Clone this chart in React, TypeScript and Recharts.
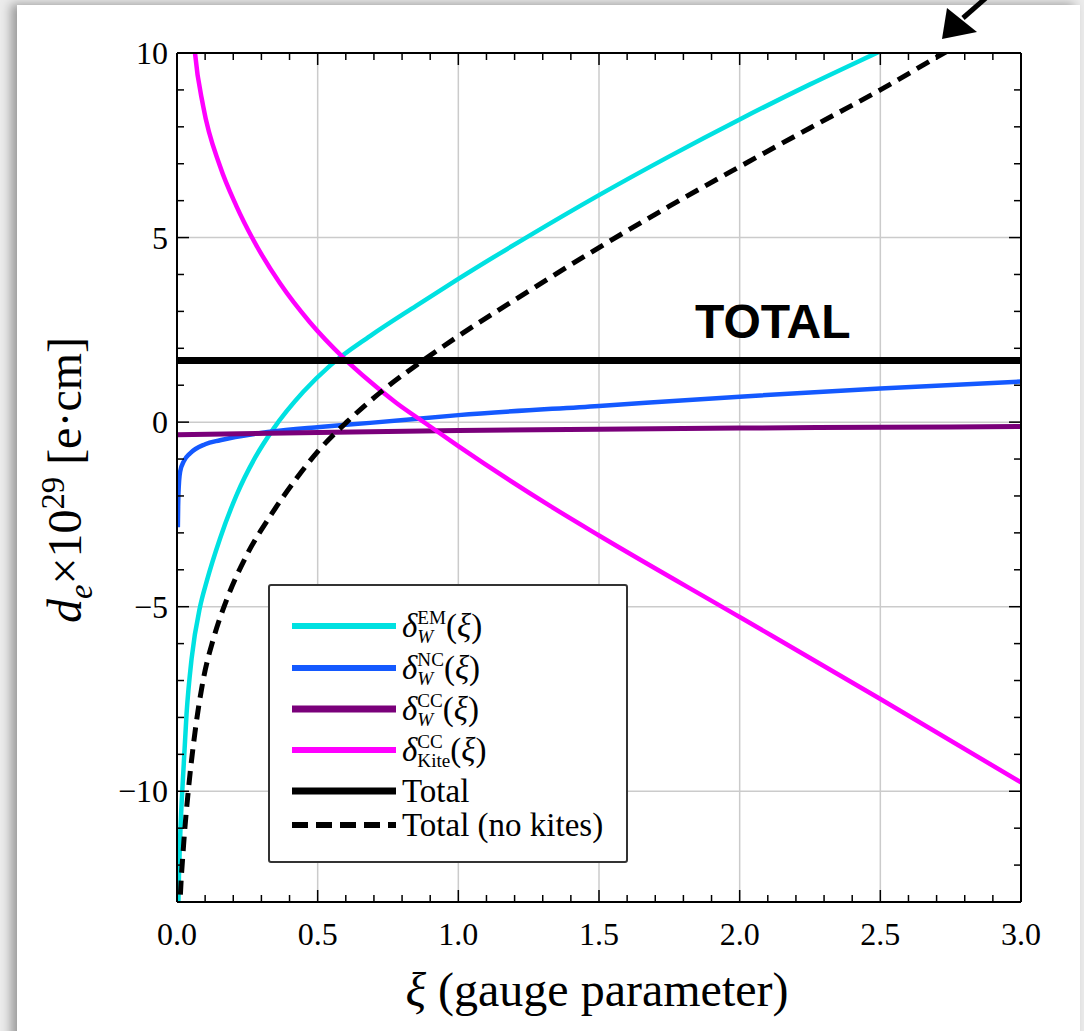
import React from 'react';
import { LineChart, Line, XAxis, YAxis, CartesianGrid, Legend } from 'recharts';

// each curve is sampled at its own xi values (dense where it bends)
const emX = [0.004, 0.006, 0.011, 0.023, 0.034, 0.052, 0.082, 0.106, 0.153, 0.212, 0.277, 0.342, 0.449, 0.544, 0.686, 0.85, 1.0, 1.25, 1.5, 1.75, 2.0, 2.25, 2.5, 2.75, 3.0];
const emY = [-13.4, -12.6, -11.3, -9.4, -7.9, -6.4, -5.0, -4.3, -3.15, -1.97, -0.97, -0.19, 0.82, 1.53, 2.33, 3.15, 3.88, 5.04, 6.15, 7.2, 8.2, 9.15, 10.05, 10.95, 11.85];

const ncX = [0.003, 0.004, 0.005, 0.011, 0.025, 0.046, 0.1, 0.153, 0.331, 0.508, 0.686, 1.0, 1.5, 2.0, 2.5, 3.0];
const ncY = [-2.85, -2.3, -1.95, -1.35, -1.05, -0.85, -0.6, -0.49, -0.26, -0.13, -0.02, 0.19, 0.44, 0.69, 0.91, 1.1];

const ccX = [0, 0.5, 1.0, 1.5, 2.0, 2.5, 3.0];
const ccY = [-0.34, -0.28, -0.23, -0.19, -0.16, -0.14, -0.12];

const kiteX = [0.045, 0.064, 0.093, 0.153, 0.212, 0.271, 0.366, 0.473, 0.591, 0.686, 0.78, 0.887, 1.0, 1.326, 1.5, 2.0, 2.5, 3.0];
const kiteY = [12.0, 10.0, 8.56, 6.93, 5.84, 4.94, 3.76, 2.7, 1.75, 1.1, 0.52, -0.05, -0.65, -2.27, -3.07, -5.28, -7.5, -9.76];

const totalX = [0, 3.0];
const totalY = [1.67, 1.67];

const noKitesX = [0.009, 0.011, 0.023, 0.04, 0.064, 0.094, 0.129, 0.177, 0.248, 0.331, 0.425, 0.5, 0.603, 0.735, 0.88, 1.0, 1.25, 1.5, 1.75, 2.0, 2.25, 2.5, 2.75, 3.0];
const noKitesY = [-13.4, -13.0, -11.5, -10.0, -8.4, -6.95, -5.88, -4.8, -3.6, -2.55, -1.52, -0.8, 0.0, 0.88, 1.7, 2.33, 3.55, 4.73, 5.85, 6.92, 7.97, 9.0, 10.1, 11.1];

const xMajor = [0, 0.5, 1, 1.5, 2, 2.5, 3];
const xMinor = [0.1, 0.2, 0.3, 0.4, 0.6, 0.7, 0.8, 0.9, 1.1, 1.2, 1.3, 1.4, 1.6, 1.7, 1.8, 1.9,
  2.1, 2.2, 2.3, 2.4, 2.6, 2.7, 2.8, 2.9];
const yMajor = [-10, -5, 0, 5, 10];
const yMinor = [-13, -12, -11, -9, -8, -7, -6, -4, -3, -2, -1, 1, 2, 3, 4, 6, 7, 8, 9];

const toRows = (xs: number[], ys: number[], key: string) => xs.map((x, i) => ({ xi: x, [key]: ys[i] }));

const SERIF = '"Liberation Serif", "Times New Roman", serif';
const frame = { stroke: '#000', strokeWidth: 2 };
const xTicksAll = [...xMajor, ...xMinor].sort((a, b) => a - b);
const yTicksAll = [...yMajor, ...yMinor].sort((a, b) => a - b);

const fmtY = (v: number) => (v < 0 ? `\u2212${Math.abs(v)}` : `${v}`);

// tick marks point into the plot; majors are longer and (bottom/left only) labelled
function makeTick(side: 'bottom' | 'top' | 'left' | 'right') {
  return (props: any) => {
    const { x, y, payload } = props;
    const v = payload.value;
    const major = side === 'bottom' || side === 'top' ? xMajor.includes(v) : yMajor.includes(v);
    const len = major ? 12 : 7;
    let line;
    if (side === 'bottom') line = <line x1={x} x2={x} y1={y} y2={y - len} stroke="#000" strokeWidth={1.5} />;
    else if (side === 'top') line = <line x1={x} x2={x} y1={y} y2={y + len} stroke="#000" strokeWidth={1.5} />;
    else if (side === 'left') line = <line x1={x} x2={x + len} y1={y} y2={y} stroke="#000" strokeWidth={1.5} />;
    else line = <line x1={x} x2={x - len} y1={y} y2={y} stroke="#000" strokeWidth={1.5} />;
    return (
      <g>
        {line}
        {major && side === 'bottom' && (
          <text x={x} y={y + 43} textAnchor="middle" fontFamily={SERIF} fontSize={32} fill="#000">{v.toFixed(1)}</text>
        )}
        {major && side === 'left' && (
          <text x={x - 9} y={y + 11} textAnchor="end" fontFamily={SERIF} fontSize={32} fill="#000">{fmtY(v)}</text>
        )}
      </g>
    );
  };
}

function Delta({ sup, sub }: { sup: string; sub: string }) {
  return (
    <span style={{ display: 'inline-flex', alignItems: 'center' }}>
      <i>δ</i>
      <span style={{ display: 'inline-flex', flexDirection: 'column', fontSize: '0.58em', lineHeight: 1, marginTop: 2 }}>
        <span>{sup}</span>
        <span style={{ fontStyle: sub === 'W' ? 'italic' : 'normal' }}>{sub}</span>
      </span>
      <span>(<i>ξ</i>)</span>
    </span>
  );
}

const legendInfo: Record<string, { label: React.ReactNode; width: number; center: number }> = {
  em: { label: <Delta sup="EM" sub="W" />, width: 6, center: 40 },
  nc: { label: <Delta sup="NC" sub="W" />, width: 6, center: 82 },
  cc: { label: <Delta sup="CC" sub="W" />, width: 7, center: 123 },
  kite: { label: <Delta sup="CC" sub="Kite" />, width: 6, center: 164 },
  total: { label: 'Total', width: 7, center: 205 },
  noKites: { label: 'Total (no kites)', width: 6, center: 239 },
};
const legendOrder = ['em', 'nc', 'cc', 'kite', 'total', 'noKites'];

function renderLegend(props: any) {
  const payload = [...(props.payload || [])].sort(
    (a: any, b: any) => legendOrder.indexOf(a.dataKey) - legendOrder.indexOf(b.dataKey)
  );
  return (
    <div style={{ position: 'relative', width: 360, height: 279, boxSizing: 'border-box', border: '2px solid #333', borderRadius: 3, background: '#fff', fontFamily: SERIF, fontSize: 33, color: '#000' }}>
      {payload.map((entry: any) => {
        const info = legendInfo[entry.dataKey];
        if (!info) return null;
        const dash = entry.payload?.strokeDasharray;
        return (
          <div key={entry.dataKey} style={{ position: 'absolute', left: 22, top: info.center - 20, height: 40, display: 'flex', alignItems: 'center', whiteSpace: 'nowrap' }}>
            <svg width={104} height={12} style={{ marginRight: 6 }}>
              <line x1={0} x2={104} y1={6} y2={6} stroke={entry.color} strokeWidth={info.width} strokeDasharray={dash ? '16 8' : undefined} />
            </svg>
            {info.label}
          </div>
        );
      })}
    </div>
  );
}

export default function App() {
  return (
    <div style={{ position: 'absolute', left: 0, top: 0, width: 1084, height: 1031, background: '#ececec', overflow: 'hidden' }}>
      <div style={{ position: 'absolute', left: 17, top: 5, width: 1063, height: 1060, background: '#fff', boxShadow: '-6px -1px 10px rgba(0,0,0,0.35)' }} />
      <div style={{ position: 'absolute', left: 0, top: 0 }}>
        <LineChart width={1084} height={1031} margin={{ top: 52, right: 62, bottom: 128, left: 176 }}>
          <CartesianGrid xAxisId="x" yAxisId="y" stroke="#cbcbcb" strokeWidth={1.5}
            verticalValues={xMajor} horizontalValues={yMajor} />
          <XAxis xAxisId="x" dataKey="xi" type="number" domain={[0, 3]} allowDataOverflow ticks={xTicksAll} interval={0}
            height={1} tickSize={0} tickMargin={0} axisLine={frame} tickLine={false} tick={makeTick('bottom')} />
          <XAxis xAxisId="xt" orientation="top" dataKey="xi" type="number" domain={[0, 3]} allowDataOverflow ticks={xTicksAll} interval={0}
            height={1} tickSize={0} tickMargin={0} axisLine={frame} tickLine={false} tick={makeTick('top')} />
          <YAxis yAxisId="y" type="number" domain={[-13, 10]} allowDataOverflow ticks={yTicksAll} interval={0}
            width={1} tickSize={0} tickMargin={0} axisLine={frame} tickLine={false} tick={makeTick('left')} />
          <YAxis yAxisId="yr" orientation="right" type="number" domain={[-13, 10]} allowDataOverflow ticks={yTicksAll} interval={0}
            width={1} tickSize={0} tickMargin={0} axisLine={frame} tickLine={false} tick={makeTick('right')} />
          <Line xAxisId="x" yAxisId="y" data={toRows(emX, emY, 'em')} type="monotone" dataKey="em" name="EM" stroke="#00e1e1" strokeWidth={4.5} dot={false} isAnimationActive={false} />
          <Line xAxisId="x" yAxisId="y" data={toRows(ncX, ncY, 'nc')} type="monotone" dataKey="nc" name="NC" stroke="#1459ff" strokeWidth={4.5} dot={false} isAnimationActive={false} />
          <Line xAxisId="x" yAxisId="y" data={toRows(ccX, ccY, 'cc')} type="monotone" dataKey="cc" name="CC" stroke="#7a007a" strokeWidth={5} dot={false} isAnimationActive={false} />
          <Line xAxisId="x" yAxisId="y" data={toRows(kiteX, kiteY, 'kite')} type="monotone" dataKey="kite" name="Kite" stroke="#ff00ff" strokeWidth={4.5} dot={false} isAnimationActive={false} />
          <Line xAxisId="xt" yAxisId="yr" data={toRows(totalX, totalY, 'total')} type="linear" dataKey="total" name="Total" stroke="#000" strokeWidth={7} dot={false} isAnimationActive={false} />
          <Line xAxisId="x" yAxisId="y" data={toRows(noKitesX, noKitesY, 'noKites')} type="monotone" dataKey="noKites" name="Total (no kites)" stroke="#000" strokeWidth={5} strokeDasharray="14 8" dot={false} isAnimationActive={false} />
          <Legend layout="vertical" align="center" verticalAlign="middle" content={renderLegend}
            wrapperStyle={{ left: 268, top: 584, width: 360, height: 279 }} />
        </LineChart>
      </div>
      <svg width={1084} height={1031} style={{ position: 'absolute', left: 0, top: 0, pointerEvents: 'none' }}>
        <text x={695} y={338} fontFamily='"Liberation Sans", Arial, sans-serif' fontWeight="bold" fontSize={48} fill="#000">TOTAL</text>
        <polygon points="942,39 947,8 977,32" fill="#000" />
        <line x1={963} y1={18} x2={987} y2={-3} stroke="#000" strokeWidth={5} />
      </svg>
      <div style={{ position: 'absolute', left: 597, top: 990, transform: 'translate(-50%, -50%)', fontFamily: SERIF, fontSize: 48, whiteSpace: 'nowrap', lineHeight: 1 }}>
        <i>ξ</i> (gauge parameter)
      </div>
      <div style={{ position: 'absolute', left: 65, top: 480, transform: 'translate(-50%, -50%) rotate(-90deg)', fontFamily: SERIF, fontSize: 48, whiteSpace: 'nowrap', lineHeight: 1 }}>
        <i>d</i><sub style={{ fontSize: '0.68em', lineHeight: 0 }}><i>e</i></sub>×10<sup style={{ fontSize: '0.68em', lineHeight: 0 }}>29</sup> [e·cm]
      </div>
    </div>
  );
}
